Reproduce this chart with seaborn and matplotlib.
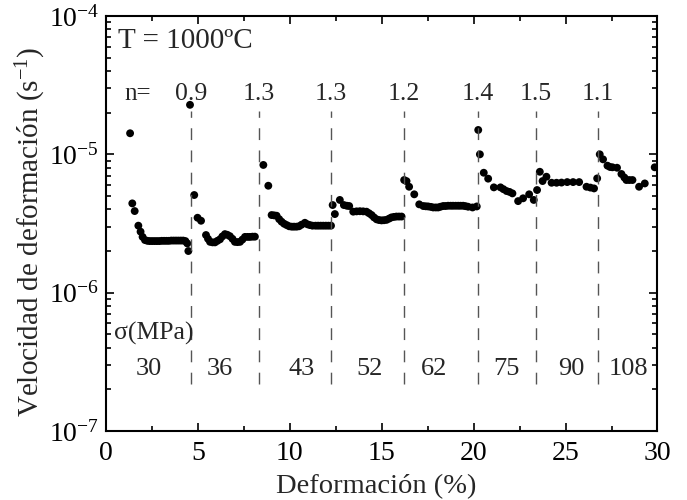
import numpy as np
import pandas as pd
import matplotlib
matplotlib.use("Agg")
import matplotlib.pyplot as plt
import matplotlib.ticker as mticker
import seaborn as sns

# strain (%) and strain rate (1/s), one list pair per stress step
seg1_x = [1.31, 1.43, 1.56, 1.76, 1.88, 1.99, 2.12, 2.25, 2.38, 2.51, 2.64, 2.77, 2.90,
          3.03, 3.16, 3.29, 3.42, 3.55, 3.68, 3.81, 3.94, 4.07, 4.20, 4.32, 4.42, 4.48, 4.57]
seg1_y = [1.42e-5, 4.42e-6, 3.89e-6, 3.05e-6, 2.76e-6, 2.53e-6, 2.40e-6, 2.37e-6, 2.36e-6,
          2.36e-6, 2.36e-6, 2.36e-6, 2.36e-6, 2.37e-6, 2.37e-6, 2.37e-6, 2.37e-6, 2.38e-6,
          2.38e-6, 2.38e-6, 2.38e-6, 2.38e-6, 2.38e-6, 2.36e-6, 2.27e-6, 2.00e-6, 2.28e-5]

seg2_x = [4.80, 4.98, 5.17, 5.44, 5.55, 5.66, 5.80, 5.93, 6.06, 6.20, 6.33, 6.47, 6.60,
          6.74, 6.88, 7.01, 7.15, 7.29, 7.42, 7.56, 7.70, 7.83, 7.97, 8.10]
seg2_y = [5.08e-6, 3.48e-6, 3.31e-6, 2.61e-6, 2.45e-6, 2.33e-6, 2.31e-6, 2.31e-6, 2.37e-6,
          2.43e-6, 2.55e-6, 2.65e-6, 2.62e-6, 2.56e-6, 2.45e-6, 2.33e-6, 2.32e-6, 2.33e-6,
          2.42e-6, 2.53e-6, 2.53e-6, 2.53e-6, 2.54e-6, 2.54e-6]

seg3_x = [8.56, 8.83, 9.01, 9.15, 9.28, 9.42, 9.55, 9.69, 9.83, 9.96, 10.10, 10.23, 10.37,
          10.50, 10.64, 10.82, 10.96, 11.09, 11.23, 11.40, 11.54, 11.68, 11.82, 11.96,
          12.10, 12.24]
seg3_y = [8.38e-6, 5.93e-6, 3.64e-6, 3.62e-6, 3.60e-6, 3.40e-6, 3.26e-6, 3.15e-6, 3.08e-6,
          3.02e-6, 3.00e-6, 3.00e-6, 3.00e-6, 3.02e-6, 3.10e-6, 3.20e-6, 3.12e-6, 3.08e-6,
          3.05e-6, 3.05e-6, 3.05e-6, 3.05e-6, 3.05e-6, 3.05e-6, 3.05e-6, 3.05e-6]

seg4_x = [12.33, 12.45, 12.72, 12.94, 13.10, 13.23, 13.45, 13.63, 13.81, 13.99, 14.17,
          14.31, 14.45, 14.58, 14.72, 14.85, 14.99, 15.12, 15.26, 15.40, 15.53, 15.67,
          15.80, 15.94, 16.08]
seg4_y = [4.30e-6, 3.70e-6, 4.68e-6, 4.30e-6, 4.25e-6, 4.23e-6, 3.85e-6, 3.87e-6, 3.88e-6,
          3.87e-6, 3.85e-6, 3.75e-6, 3.64e-6, 3.50e-6, 3.39e-6, 3.35e-6, 3.33e-6, 3.34e-6,
          3.36e-6, 3.43e-6, 3.50e-6, 3.53e-6, 3.55e-6, 3.55e-6, 3.55e-6]

seg5_x = [16.22, 16.35, 16.49, 16.77, 17.04, 17.26, 17.40, 17.53, 17.67, 17.80, 17.94,
          18.07, 18.20, 18.34, 18.47, 18.61, 18.75, 18.88, 19.02, 19.16, 19.29, 19.43,
          19.56, 19.70, 19.94, 20.17]
seg5_y = [6.52e-6, 6.40e-6, 5.83e-6, 5.14e-6, 4.35e-6, 4.23e-6, 4.21e-6, 4.20e-6, 4.17e-6,
          4.13e-6, 4.13e-6, 4.13e-6, 4.18e-6, 4.23e-6, 4.23e-6, 4.25e-6, 4.25e-6, 4.25e-6,
          4.25e-6, 4.25e-6, 4.25e-6, 4.25e-6, 4.22e-6, 4.18e-6, 4.13e-6, 4.20e-6]

seg6_x = [20.25, 20.34, 20.55, 20.79, 21.10, 21.46, 21.62, 21.79, 21.95, 22.11, 22.42,
          22.69, 23.02, 23.27, 23.45]
seg6_y = [1.50e-5, 1.00e-5, 7.36e-6, 6.67e-6, 5.77e-6, 5.77e-6, 5.60e-6, 5.43e-6, 5.35e-6,
          5.22e-6, 4.59e-6, 4.81e-6, 5.14e-6, 4.68e-6, 5.52e-6]

seg7_x = [23.60, 23.75, 23.96, 24.24, 24.51, 24.78, 25.09, 25.41, 25.74, 26.14, 26.35,
          26.55, 26.72]
seg7_y = [7.48e-6, 6.41e-6, 6.89e-6, 6.23e-6, 6.23e-6, 6.25e-6, 6.30e-6, 6.30e-6, 6.30e-6,
          5.83e-6, 5.75e-6, 5.67e-6, 6.70e-6]

seg8_x = [26.86, 27.04, 27.28, 27.42, 27.55, 27.80, 28.04, 28.20, 28.31, 28.47, 28.64,
          29.00, 29.31, 29.85]
seg8_y = [1.00e-5, 9.20e-6, 8.28e-6, 8.10e-6, 8.06e-6, 8.00e-6, 7.21e-6, 6.80e-6, 6.52e-6,
          6.52e-6, 6.52e-6, 5.83e-6, 6.16e-6, 8.06e-6]

# stress changes
step_x = [4.61, 8.30, 12.22, 16.20, 20.21, 23.38, 26.77]
n_labels = ["0.9", "1.3", "1.3", "1.2", "1.4", "1.5", "1.1"]
sigma_labels = ["30", "36", "43", "52", "62", "75", "90", "108"]
sigma_x = [2.32, 6.20, 10.64, 14.36, 17.85, 21.79, 25.30, 28.45]

df = pd.DataFrame({
    "strain": seg1_x + seg2_x + seg3_x + seg4_x + seg5_x + seg6_x + seg7_x + seg8_x,
    "rate": seg1_y + seg2_y + seg3_y + seg4_y + seg5_y + seg6_y + seg7_y + seg8_y,
})

sns.set_theme(style="ticks")
plt.rcParams["font.family"] = ["Liberation Serif", "DejaVu Serif"]
plt.rcParams["mathtext.fontset"] = "custom"
plt.rcParams["mathtext.rm"] = "Liberation Serif"
plt.rcParams["mathtext.it"] = "Liberation Serif:italic"

fig = plt.figure(figsize=(6.87, 5.0), dpi=100)
ax = fig.add_axes([0.1543, 0.138, 0.8027, 0.830])

sns.scatterplot(data=df, x="strain", y="rate", color="black", s=32,
                edgecolor="none", linewidth=0, ax=ax, legend=False)

ax.vlines(step_x, 2.2e-7, 2.05e-5, colors="#555555", linewidth=1.0,
          linestyles=(0, (8.5, 7.5)))

ax.set_yscale("log")
ax.set_xlim(0, 30)
ax.set_ylim(1e-7, 1e-4)

ax.xaxis.set_major_locator(mticker.MultipleLocator(5))
ax.xaxis.set_minor_locator(mticker.MultipleLocator(2.5))
ax.yaxis.set_major_locator(mticker.LogLocator(base=10, numticks=10))
ax.yaxis.set_minor_locator(mticker.LogLocator(base=10, subs=np.arange(2, 10), numticks=10))
ax.yaxis.set_minor_formatter(mticker.NullFormatter())
ax.yaxis.set_major_formatter(mticker.FuncFormatter(
    lambda v, p: r"$\mathregular{10^{%d}}$" % int(round(np.log10(v)))))

ax.tick_params(which="both", direction="in", top=True, right=True, colors="black",
               labelsize=20, width=1.2)
ax.tick_params(which="major", length=6, pad=7)
ax.tick_params(axis="y", which="major", pad=5)
ax.tick_params(which="minor", length=3.5)
for s in ax.spines.values():
    s.set_linewidth(1.5)
    s.set_color("black")

ax.set_xlabel("Deformación (%)", fontsize=20.5)
ax.set_ylabel(r"Velocidad de deformación (s$^{\mathregular{-1}}$)", fontsize=21)
ax.xaxis.set_label_coords(0.49, -0.105)
ax.yaxis.set_label_coords(-0.105, 0.48)

ax.text(0.65, 6.6e-5, "T = 1000ºC", fontsize=21, ha="left", va="center")
ax.text(0.98, 2.75e-5, "n=", fontsize=18, ha="left", va="center")
for xv, lab in zip(step_x, n_labels):
    ax.text(xv, 2.75e-5, lab, fontsize=18.5, ha="center", va="center")

ax.text(0.43, 5.1e-7, "σ(MPa)", fontsize=18.5, ha="left", va="center")
for xv, lab in zip(sigma_x, sigma_labels):
    ax.text(xv, 2.8e-7, lab, fontsize=19, ha="center", va="center")

fig.savefig("out.png", dpi=100)
